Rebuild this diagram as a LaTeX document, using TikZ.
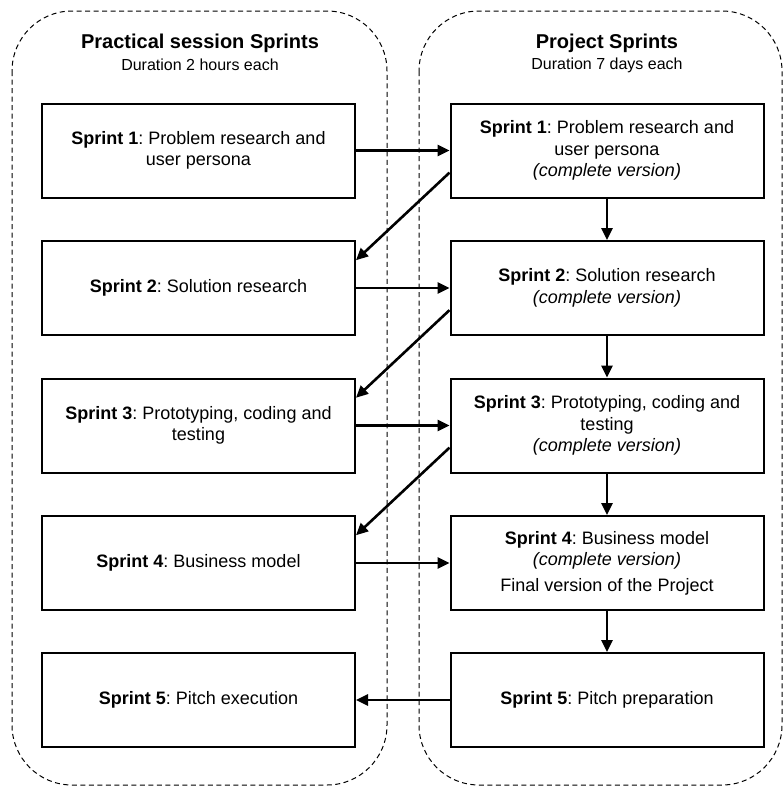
\documentclass[tikz,border=0pt]{standalone}
\usepackage{fontspec}
\setmainfont{Liberation Sans}
\frenchspacing
\usetikzlibrary{arrows.meta}

\tikzset{
  sprint/.style={draw,line width=2pt,minimum width=313pt,minimum height=94pt,
    align=center,inner sep=4pt,font=\fontsize{18}{21.5}\selectfont},
  flow/.style={line width=2.6pt,-{Triangle[length=12pt,width=11pt]}},
  group/.style={draw,dashed,dash pattern=on 5pt off 3.5pt,line width=1pt,rounded corners=60pt}
}

\begin{document}
\begin{tikzpicture}[x=1pt,y=-1pt]
                \useasboundingbox (0,0) rectangle (784,787);

                \draw[group] (12,11) rectangle (387,785);
                \draw[group] (419,11) rectangle (782,785);

                \node (ptitle) at (200,43) [font=\fontsize{20}{24}\selectfont\bfseries] {Practical session Sprints};
                \node (psub) at (200,65) [font=\fontsize{16}{19}\selectfont] {Duration 2 hours each};
                \node (jtitle) at (607,43) [font=\fontsize{20}{24}\selectfont\bfseries] {Project Sprints};
                \node (jsub) at (607,65) [font=\fontsize{16}{19}\selectfont] {Duration 7 days each};

                \node (l1) at (198.5,150.5) [sprint] {\textbf{Sprint 1}: Problem research and\\user persona};
                \node (l2) at (198.5,288) [sprint] {\textbf{Sprint 2}: Solution research};
                \node (l3) at (198.5,425.5) [sprint] {\textbf{Sprint 3}: Prototyping, coding and\\testing};
                \node (l4) at (198.5,563) [sprint] {\textbf{Sprint 4}: Business model};
                \node (l5) at (198.5,700) [sprint] {\textbf{Sprint 5}: Pitch execution};

                \node (r1) at (607,150.5) [sprint] {\textbf{Sprint 1}: Problem research and\\user persona\\\textit{(complete version)}};
                \node (r2) at (607,288) [sprint] {\textbf{Sprint 2}: Solution research\\\textit{(complete version)}};
                \node (r3) at (607,425.5) [sprint] {\textbf{Sprint 3}: Prototyping, coding and\\testing\\\textit{(complete version)}};
                \node (r4) at (607,563) [sprint] {\textbf{Sprint 4}: Business model\\\textit{(complete version)}\\[4pt]Final version of the Project};
                \node (r5) at (607,700) [sprint] {\textbf{Sprint 5}: Pitch preparation};

                \draw[flow] (l1) -- (r1);
                \draw[flow] (l2) -- (r2);
                \draw[flow] (l3) -- (r3);
                \draw[flow] (l4) -- (r4);
                \draw[flow] (r5) -- (l5);

                \draw[flow] (r1) -- (r2);
                \draw[flow] (r2) -- (r3);
                \draw[flow] (r3) -- (r4);
                \draw[flow] (r4) -- (r5);

                \draw[flow] (r1.188) -- (l2.10);
                \draw[flow] (r2.188) -- (l3.10);
                \draw[flow] (r3.188) -- (l4.10);

            \end{tikzpicture}
\end{document}
